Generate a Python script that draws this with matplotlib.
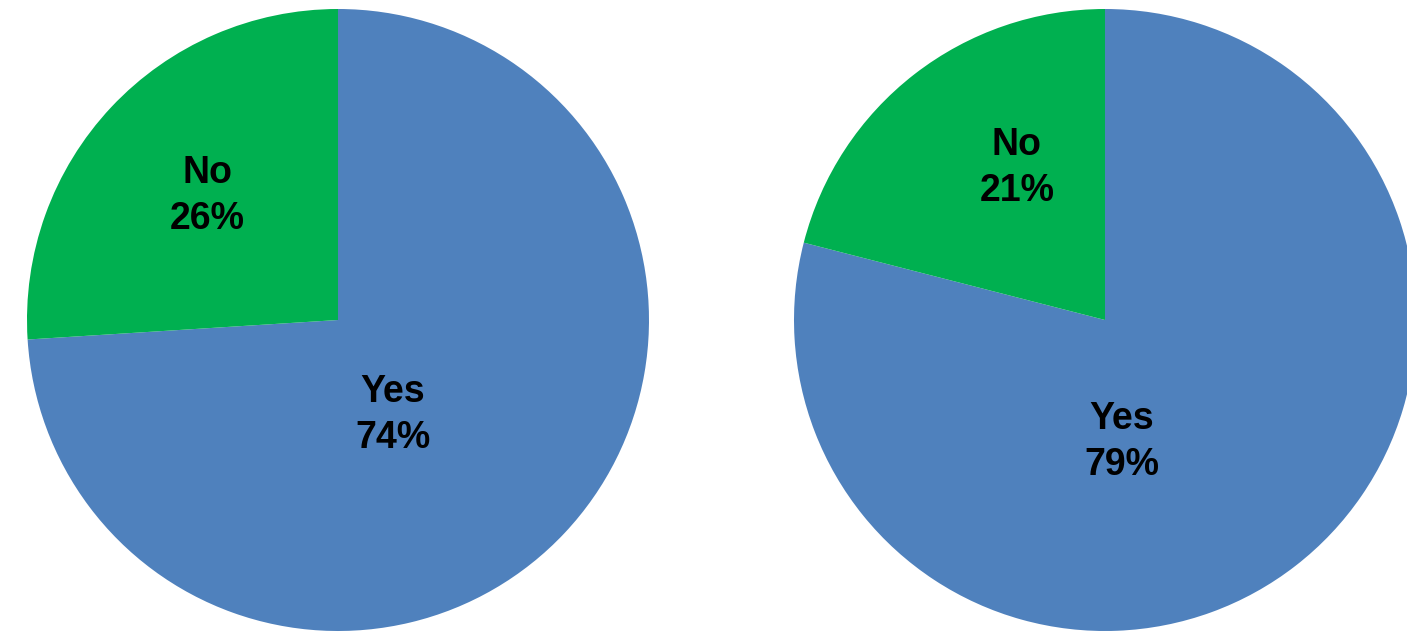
import matplotlib
matplotlib.use('Agg')
import matplotlib.pyplot as plt

categories = ['Yes', 'No']
left_pct = [74, 26]
right_pct = [79, 21]
colors = ['#4F81BD', '#00B050']

W, H = 1407, 632
R = 311
# pie centres in pixels and label anchor offsets (in pie-radius units)
centres = [(338, 320), (1105, 320)]
label_pos = [
    [(0.177, -0.305), (-0.42, 0.40)],
    [(0.055, -0.392), (-0.283, 0.489)],
]

fig = plt.figure(figsize=(W / 100, H / 100), dpi=100)
for (cx, cy), vals, lpos in zip(centres, [left_pct, right_pct], label_pos):
    ax = fig.add_axes([(cx - R) / W, (H - cy - R) / H, 2 * R / W, 2 * R / H])
    ax.pie(vals, colors=colors, startangle=90, counterclock=False,
           wedgeprops=dict(linewidth=0), radius=1)
    for cat, v, (x, y) in zip(categories, vals, lpos):
        ax.text(x, y, f"{cat}\n{v}%", ha='center', va='center',
                fontsize=27, fontweight='bold', family='Liberation Sans',
                linespacing=1.36, color='black')
    ax.set_xlim(-1, 1); ax.set_ylim(-1, 1)
    ax.set_aspect('equal')
    ax.axis('off')

fig.savefig('out.png', dpi=100)
